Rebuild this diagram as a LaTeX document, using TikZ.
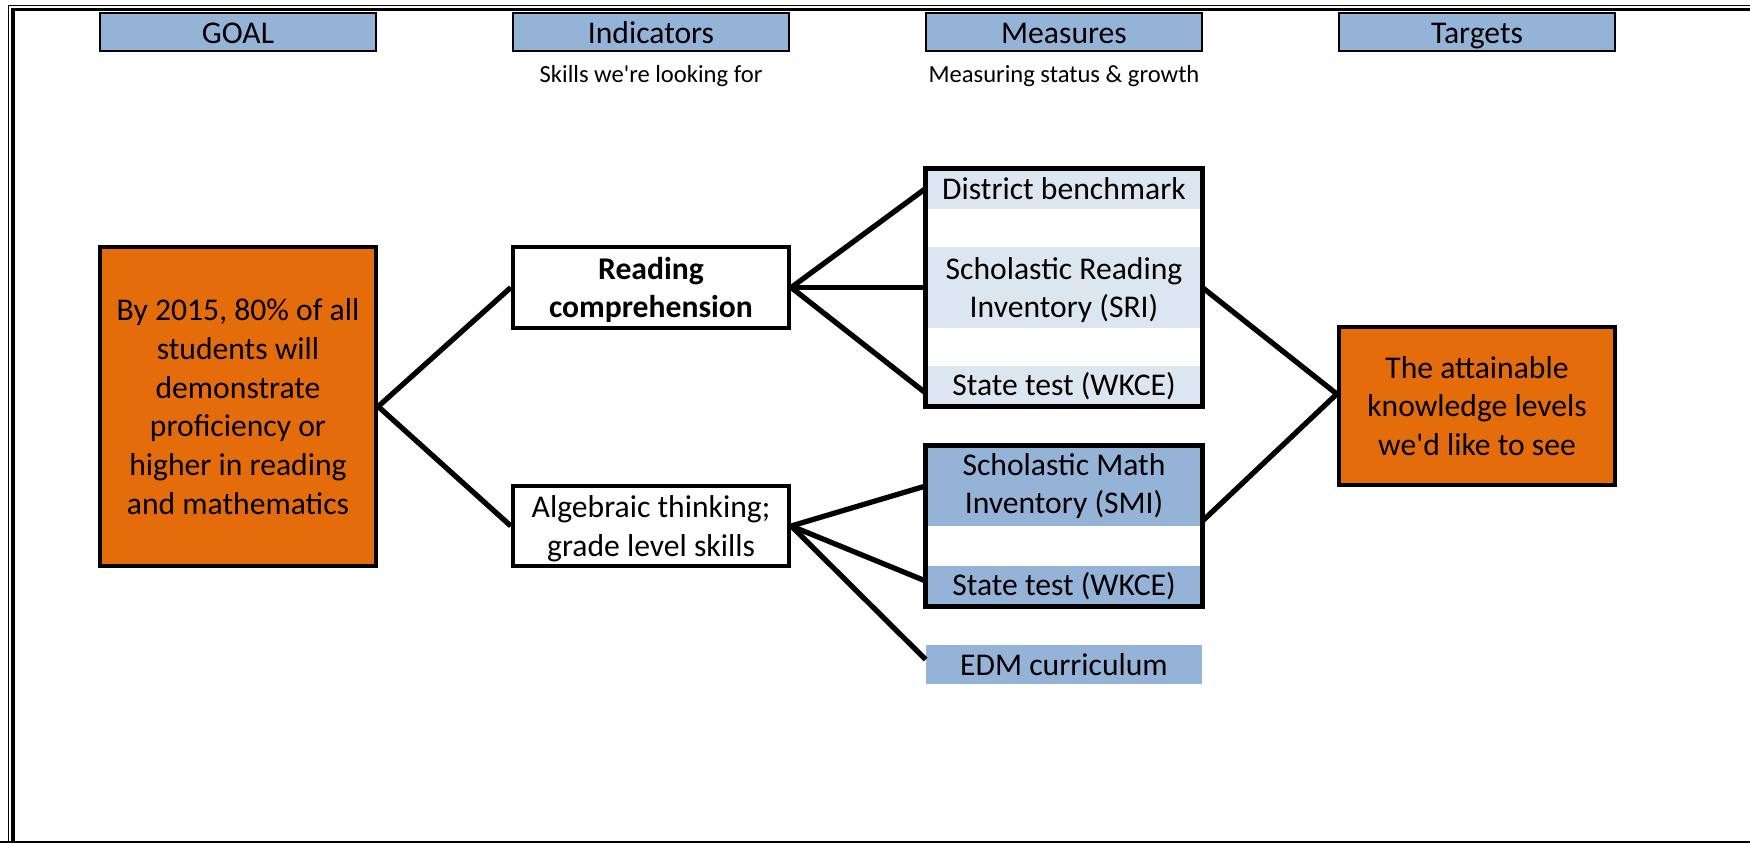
\documentclass[tikz,border=0pt]{standalone}
\usepackage{fontspec}
\setmainfont{Carlito}
\usetikzlibrary{fit}
\definecolor{headblue}{HTML}{95B3D7}
\definecolor{paleblue}{HTML}{DCE6F1}
\definecolor{goalorange}{HTML}{E46C0A}
\tikzset{
	head/.style={draw, line width=1.6pt, fill=headblue, minimum width=5.52cm, minimum height=0.76cm, inner sep=0pt, text height=17pt, text depth=3.5pt, font=\fontsize{18}{22}\selectfont},
	note/.style={inner sep=0pt, font=\fontsize{14}{16}\selectfont},
	box/.style={draw, line width=2.5pt, minimum width=5.52cm, inner sep=0pt, align=center, font=\fontsize{18}{22}\selectfont},
	band/.style={fill=#1, minimum width=5.52cm, inner sep=0pt, align=center, font=\fontsize{18}{22}\selectfont},
	lowtext/.style={text depth=-6pt},
	group/.style={draw, line width=2.8pt, inner sep=0pt},
	link/.style={line width=3pt}
}
\begin{document}
\begin{tikzpicture}
	\useasboundingbox (0,0) rectangle (35,-16.86);
	\clip (0,0) rectangle (35,-16.86);
	% double frame
		\draw [line width=0.7pt] (0.17,-17) |- (35.5,-0.11);
		\draw [line width=2.2pt] (0.26,-17) |- (35.5,-0.19);
		\draw [line width=2.2pt] (0,-16.86) -- (35,-16.86);
	% column heads
		\node [head] (goalhead) at (4.76,-0.64) {GOAL};
		\node [head] (indhead) at (13.02,-0.64) {Indicators};
		\node [head] (meashead) at (21.28,-0.64) {Measures};
		\node [head] (targhead) at (29.54,-0.64) {Targets};
		\node [note] (indnote) at (13.02,-1.52) {Skills we\textquotesingle re looking for};
		\node [note] (measnote) at (21.28,-1.52) {Measuring status \& growth};
	% goal and indicators
		\node [box, fill=goalorange, minimum height=6.38cm] (goal) at (4.76,-8.13) {By 2015, 80\% of all\\students will\\demonstrate\\proficiency or\\higher in reading\\and mathematics};
		\node [box, lowtext, fill=white, minimum height=1.62cm, font=\fontsize{18}{22}\selectfont\bfseries] (reading) at (13.02,-5.75) {Reading\\comprehension};
		\node [box, lowtext, fill=white, minimum height=1.61cm] (algebra) at (13.02,-10.52) {Algebraic thinking;\\grade level skills};
	% measures
		\node [band=paleblue, minimum height=0.80cm] (district) at (21.28,-3.77) {District benchmark};
		\node [band=paleblue, lowtext, minimum height=1.63cm] (sri) at (21.28,-5.75) {Scholastic Reading\\Inventory (SRI)};
		\node [band=paleblue, minimum height=0.80cm] (wkcer) at (21.28,-7.72) {State test (WKCE)};
		\node [band=headblue, minimum height=1.59cm] (smi) at (21.28,-9.72) {Scholastic Math\\Inventory (SMI)};
		\node [band=headblue, minimum height=0.80cm] (wkcem) at (21.28,-11.72) {State test (WKCE)};
		\node [band=headblue, minimum height=0.78cm] (edm) at (21.28,-13.29) {EDM curriculum};
		\node [group, fit=(district)(wkcer)] (readgroup) {};
		\node [group, fit=(smi)(wkcem)] (mathgroup) {};
	% targets
		\node [box, fill=goalorange, minimum height=3.17cm] (targets) at (29.54,-8.12) {The attainable\\knowledge levels\\we\textquotesingle d like to see};
		\coordinate (tin) at ([yshift=0.24cm]targets.west);
	% lines
		\draw [link] (reading.west) -- (goal.east) -- (algebra.west);
		\draw [link] (reading.east) -- (district.west);
		\draw [link] (reading.east) -- (sri.west);
		\draw [link] (reading.east) -- ([yshift=-0.14cm]wkcer.west);
		\draw [link] (algebra.east) -- (smi.west);
		\draw [link] (algebra.east) -- ([yshift=0.1cm]wkcem.west);
		\draw [link] (algebra.east) -- ([yshift=0.1cm]edm.west);
		\draw [link] (sri.east) -- (tin) -- ([yshift=0.1cm]smi.south east);
\end{tikzpicture}
\end{document}
